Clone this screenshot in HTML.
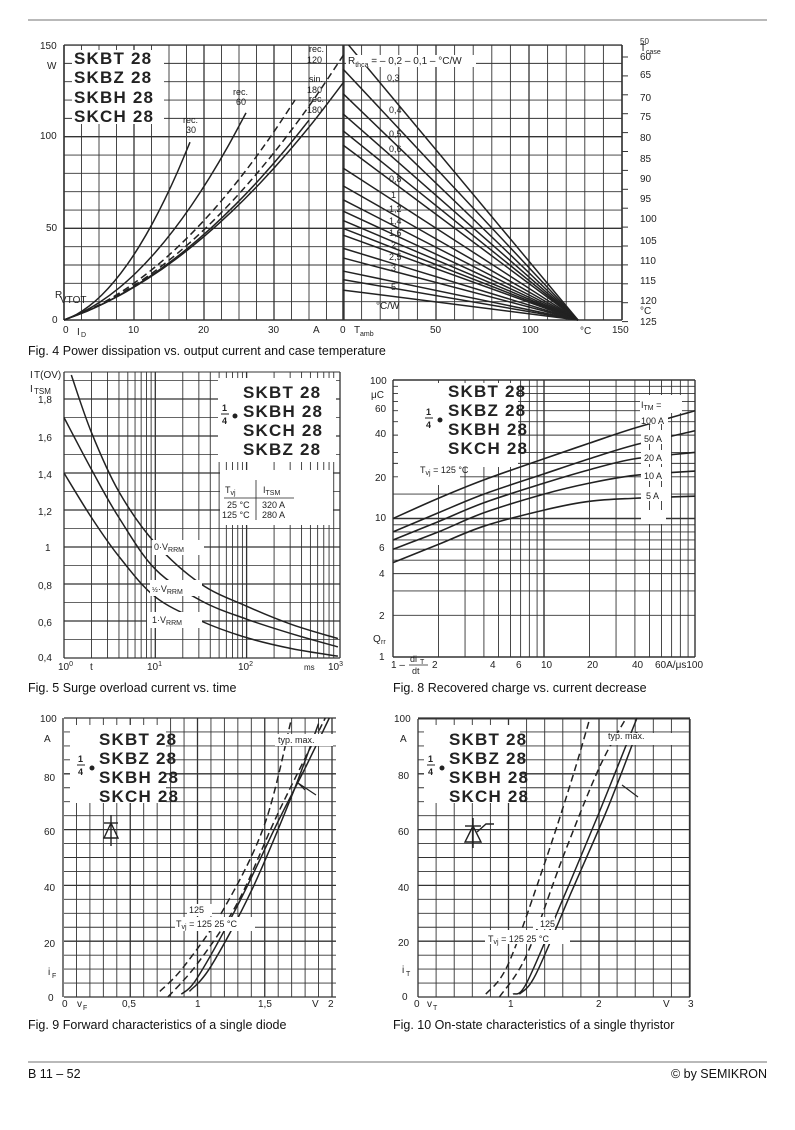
<!DOCTYPE html>
<html><head><meta charset="utf-8"><style>
body{margin:0;background:#fff}
svg{display:block;font-family:"Liberation Sans",sans-serif}
.t{font-size:10px;fill:#222}
.b{font-size:17px;font-weight:bold;fill:#222;letter-spacing:1.2px}
.c{font-size:12.5px;fill:#111}
</style></head><body>
<svg id="s" width="795" height="1130" viewBox="0 0 795 1130">
<rect width="795" height="1130" fill="#fff"/>
<line x1="28" y1="20" x2="767" y2="20" stroke="#444" stroke-width="0.8"/>
<line x1="28" y1="1062" x2="767" y2="1062" stroke="#444" stroke-width="0.8"/>
<g id="g"></g>
<g class="t">
<text x="40" y="49">150</text><text x="47" y="69">W</text><text x="40" y="139">100</text><text x="46" y="231">50</text><text x="52" y="323">0</text>
<text x="55" y="298">R</text><text x="60" y="303">VTOT</text>
<text x="63" y="333">0</text><text x="77" y="335">I</text><text x="81" y="337" font-size="7">D</text><text x="128" y="333">10</text><text x="198" y="333">20</text><text x="268" y="333">30</text><text x="313" y="333">A</text>
<text x="340" y="333">0</text><text x="354" y="333">T</text><text x="360" y="336" font-size="7">amb</text><text x="430" y="333">50</text><text x="522" y="333">100</text><text x="580" y="334">°C</text><text x="612" y="333">150</text>
<text x="640" y="44" font-size="8">50</text><text x="640" y="51">T</text><text x="646" y="54" font-size="7">case</text>
<text x="640" y="60">60</text><text x="640" y="78">65</text><text x="640" y="101">70</text><text x="640" y="120">75</text><text x="640" y="141">80</text><text x="640" y="162">85</text><text x="640" y="182">90</text><text x="640" y="202">95</text><text x="640" y="222">100</text><text x="640" y="244">105</text><text x="640" y="264">110</text><text x="640" y="284">115</text><text x="640" y="304">120</text><text x="640" y="314">°C</text><text x="640" y="325">125</text>
</g>
<text x="28" y="355" class="c">Fig. 4  Power dissipation vs. output current and case temperature</text>
<g class="t">
<text x="30" y="378">I</text><text x="34" y="378">T(OV)</text><text x="30" y="392">I</text><text x="34" y="394" font-size="8">TSM</text>
<text x="38" y="403">1,8</text><text x="38" y="441">1,6</text><text x="38" y="478">1,4</text><text x="38" y="515">1,2</text><text x="45" y="551">1</text><text x="38" y="589">0,8</text><text x="38" y="626">0,6</text><text x="38" y="661">0,4</text>
<text x="58" y="670">10<tspan font-size="7" dy="-4">0</tspan></text><text x="90" y="670">t</text><text x="147" y="670">10<tspan font-size="7" dy="-4">1</tspan></text><text x="238" y="670">10<tspan font-size="7" dy="-4">2</tspan></text><text x="304" y="670" font-size="8">ms</text><text x="328" y="670">10<tspan font-size="7" dy="-4">3</tspan></text>
</g>
<text x="28" y="692" class="c">Fig. 5  Surge overload current vs. time</text>
<g class="t">
<text x="370" y="384">100</text><text x="371" y="398">μC</text><text x="375" y="412">60</text><text x="375" y="437">40</text><text x="375" y="481">20</text><text x="375" y="521">10</text><text x="379" y="551">6</text><text x="379" y="577">4</text><text x="379" y="619">2</text><text x="373" y="642">Q</text><text x="381" y="644" font-size="7">rr</text><text x="379" y="660">1</text>
<text x="391" y="668">1 –</text><text x="410" y="662" font-size="9">di</text><text x="420" y="664" font-size="7">T</text><line x1="409" y1="665" x2="428" y2="665" stroke="#222" stroke-width="0.7"/><text x="412" y="674" font-size="9">dt</text><text x="432" y="668">2</text><text x="490" y="668">4</text><text x="516" y="668">6</text><text x="541" y="668">10</text><text x="587" y="668">20</text><text x="632" y="668">40</text><text x="655" y="668">60A/μs100</text>
</g>
<text x="393" y="692" class="c">Fig. 8  Recovered charge vs. current decrease</text>
<g class="t">
<text x="40" y="722">100</text><text x="44" y="742">A</text><text x="44" y="781">80</text><text x="44" y="835">60</text><text x="44" y="891">40</text><text x="44" y="947">20</text><text x="48" y="975">i</text><text x="52" y="978" font-size="7">F</text><text x="48" y="1001">0</text>
<text x="62" y="1007">0</text><text x="77" y="1007">v</text><text x="83" y="1010" font-size="7">F</text><text x="122" y="1007">0,5</text><text x="195" y="1007">1</text><text x="258" y="1007">1,5</text><text x="312" y="1007">V</text><text x="328" y="1007">2</text>
</g>
<text x="28" y="1029" class="c">Fig. 9  Forward characteristics of a single diode</text>
<g class="t">
<text x="394" y="722">100</text><text x="400" y="742">A</text><text x="398" y="779">80</text><text x="398" y="835">60</text><text x="398" y="891">40</text><text x="398" y="946">20</text><text x="402" y="973">i</text><text x="406" y="976" font-size="7">T</text><text x="402" y="1000">0</text>
<text x="414" y="1007">0</text><text x="427" y="1007">v</text><text x="433" y="1010" font-size="7">T</text><text x="508" y="1007">1</text><text x="596" y="1007">2</text><text x="663" y="1007">V</text><text x="688" y="1007">3</text>
</g>
<text x="393" y="1029" class="c">Fig. 10  On-state characteristics of a single thyristor</text>
<text x="28" y="1078" class="c" font-size="12">B 11 – 52</text>
<text x="767" y="1078" class="c" font-size="12" text-anchor="end">© by SEMIKRON</text>
</svg>
<script>
var NS="http://www.w3.org/2000/svg",G=document.getElementById("g");
function el(n,a,p){var e=document.createElementNS(NS,n);for(var k in a)e.setAttribute(k,a[k]);(p||G).appendChild(e);return e}
function ln(x1,y1,x2,y2,w){el("line",{x1:x1,y1:y1,x2:x2,y2:y2,stroke:"#333","stroke-width":w||0.9})}
function cr(pts){var d="M"+pts[0][0]+","+pts[0][1];for(var i=0;i<pts.length-1;i++){var p0=pts[i-1]||pts[i],p1=pts[i],p2=pts[i+1],p3=pts[i+2]||p2;d+="C"+(p1[0]+(p2[0]-p0[0])/6)+","+(p1[1]+(p2[1]-p0[1])/6)+" "+(p2[0]-(p3[0]-p1[0])/6)+","+(p2[1]-(p3[1]-p1[1])/6)+" "+p2[0]+","+p2[1]}return d}
function curve(pts,dash,w){var a={d:cr(pts),fill:"none",stroke:"#222","stroke-width":w||1.6};if(dash)a["stroke-dasharray"]="7,4";el("path",a)}
function rect(x,y,w,h){el("rect",{x:x,y:y,width:w,height:h,fill:"#fff"})}
var L=64,R=622,T=45,B=320;
for(var i=0;i<=16;i++){var x=64+i*17.5;ln(x,T,x,B,i%4==0?1.3:0.9)}
for(var t=10;t<=150;t+=10){var x=343+t*1.86;if(x<=622)ln(x,T,x,B,t%50==0?1.3:0.9)}
for(var p=0;p<=150;p+=10){var y=320-p*1.833;ln(L,y,R,y,p%50==0?1.4:0.9)}
ln(343,T,343,B,1.5);ln(L,T,L,B,1.5);ln(R,T,R,B,1.5);
for(var k=0;k<15;k++){var y=57+k*18.9;ln(622,y,628,y,1)}
function fx(I){return 64+I*7}function fy(P){return 320-P*1.833}
function pc(Ie,Pe,dash){var a=1.3,b=(Pe-a*Ie)/(Ie*Ie),pts=[];for(var i=0;i<=10;i++){var I=Ie*i/10;pts.push([fx(I),fy(a*I+b*I*I)])}curve(pts,dash,1.5)}
pc(18,97);pc(26,113);pc(40,145,1);pc(40,130);pc(35,109);pc(33,120,1);
[0.1,0.2,0.3,0.4,0.5,0.6,0.8,1,1.2,1.4,1.6,1.8,2,2.5,3,4,5,7].forEach(function(r){var P0=126/(r+0.72),x0=343;if(P0>150){x0=343+(126-150*(r+0.72))*1.86;P0=150}el("line",{x1:x0,y1:fy(P0),x2:578,y2:320,stroke:"#222","stroke-width":1.5})});
rect(72,50,92,74);
var x0=64,dec=91.3;function tx(l){return x0+l*dec}function ty(v){return 658-(v-0.4)*185}
for(var d=0;d<3;d++)for(var m=1;m<10;m++){var x=tx(d+Math.log10(m));ln(x,372,x,658,m==1?1.3:0.9)}
ln(340,372,340,658,1.3);
for(var v=0.4;v<1.95;v+=0.1){ln(64,ty(v),340,ty(v),Math.round(v*10)%2==0?1.2:0.8)}
ln(64,372,340,372,1);
function c5(a){curve(a.map(function(p){return[tx(p[0]),ty(p[1])]}),0,1.5)}
c5([[0.08,1.93],[0.3,1.62],[0.6,1.3],[1,1.02],[1.5,0.8],[2,0.68],[2.5,0.58],[3,0.505]]);
c5([[0,1.7],[0.3,1.42],[0.6,1.16],[1,0.88],[1.5,0.71],[2,0.61],[2.5,0.53],[3,0.46]]);
c5([[0,1.4],[0.3,1.16],[0.6,0.95],[1,0.73],[1.5,0.6],[2,0.51],[2.5,0.45],[3,0.41]]);
rect(218,378,118,84);rect(220,470,113,55);rect(152,540,52,15);rect(150,580,52,16);rect(147,612,55,16);
function gx(v){return 393+Math.log10(v)*151}function gy(v){return 657-Math.log10(v)*138.5}
[1,2,3,4,5,6,7,8,9,10,20,30,40,50,60,70,80,90,100].forEach(function(v){ln(gx(v),380,gx(v),657,(v==1||v==10||v==100)?1.4:0.9)});
[1,2,3,4,5,6,7,8,9,10,15,20,25,30,40,50,60,70,80,90,100].forEach(function(v){ln(393,gy(v),695,gy(v),(v==1||v==10||v==100)?1.4:0.9)});
function c8(a){curve(a.map(function(p){return[gx(p[0]),gy(p[1])]}),0,1.6)}
c8([[1,10],[2,14],[4,19],[10,27],[20,35],[40,45],[100,60]]);
c8([[1,8],[2,11],[4,15],[10,21],[20,27],[40,34],[100,43]]);
c8([[1,7],[2,9.5],[4,13],[10,18],[20,22.5],[40,27],[100,30]]);
c8([[1,6],[2,8],[4,11],[10,15],[20,18],[40,20.5],[100,22]]);
c8([[1,4.8],[2,6.5],[4,8.8],[10,11.5],[20,13.3],[40,14],[100,14.5]]);
rect(398,383,120,84);rect(640,395,42,18);rect(640,412,28,12);rect(641,430,30,14);rect(641,450,30,14);rect(641,467,30,14);rect(641,487,30,14);rect(641,510,25,14);rect(398,465,62,20);
function vx(v){return 63+v*134.5}function iy(i){return 997-i*2.79}
for(var i=0;i<=20;i++){ln(vx(i*0.1),718,vx(i*0.1),997,i%5==0?1.3:0.9)}
for(var i=0;i<=100;i+=5){ln(64,iy(i),336,iy(i),i%20==0?1.3:0.9)}
function c9(a,d){curve(a.map(function(p){return[vx(p[0]),iy(p[1])]}),d,1.5)}
c9([[0.72,2],[0.9,11],[1.2,32],[1.5,62],[1.7,100]],1);
c9([[0.78,0],[1.0,12],[1.3,34],[1.6,66],[1.95,100]],1);
c9([[0.88,1],[1.0,7],[1.3,33],[1.6,63],[1.8,82],[1.98,100]]);
c9([[0.94,2],[1.1,11],[1.4,38],[1.7,72],[1.9,98]]);
rect(70,725,96,78);rect(275,734,58,12);rect(175,917,80,14);rect(187,904,25,12);
function wx(v){return 418+v*90.5}
for(var i=0;i<=15;i++){ln(wx(i*0.2),719,wx(i*0.2),997,i%5==0?1.3:0.9)}
for(var i=0;i<=100;i+=5){ln(418,iy(i),690,iy(i),i%20==0?1.3:0.9)}
ln(690,719,690,997,1.3);ln(418,719,690,719,1);
function c10(a,d){curve(a.map(function(p){return[wx(p[0]),iy(p[1])]}),d,1.5)}
c10([[0.75,1],[1.0,12],[1.4,48],[1.7,78],[1.9,100]],1);
c10([[0.9,0],[1.2,15],[1.6,50],[2.0,82],[2.3,100]],1);
c10([[1.05,1],[1.2,5],[1.6,35],[2.0,66],[2.42,100]]);
c10([[1.12,1],[1.3,8],[1.7,38],[2.1,68],[2.42,95]]);
rect(424,725,96,78);rect(602,733,70,12);rect(485,930,85,14);rect(533,917,22,12);
</script>
<svg style="position:absolute;left:0;top:0" width="795" height="1130">
<g font-family="Liberation Sans,sans-serif" fill="#222">
<text x="74" y="64" class="b">SKBT 28</text><text x="74" y="83" class="b">SKBZ 28</text><text x="74" y="103" class="b">SKBH 28</text><text x="74" y="122" class="b">SKCH 28</text>
<g font-size="9"><text x="183" y="123">rec.</text><text x="186" y="133">30</text><text x="233" y="95">rec.</text><text x="236" y="105">60</text><text x="309" y="52">rec.</text><text x="307" y="63">120</text><text x="309" y="82">sin.</text><text x="307" y="93">180</text><text x="309" y="102">rec.</text><text x="307" y="113">180</text>
<rect x="346" y="55" width="130" height="12" fill="#fff"/><text x="348" y="64" font-size="10">R<tspan font-size="7" dy="3">thca</tspan><tspan dy="-3"> = – 0,2 – 0,1 – °C/W</tspan></text>
<text x="387" y="81">0,3</text><text x="389" y="113">0,4</text><text x="389" y="137">0,5</text><text x="389" y="152">0,6</text><text x="389" y="182">0,8</text><text x="391" y="198">1</text><text x="389" y="212">1,2</text><text x="389" y="224">1,4</text><text x="389" y="236">1,6</text><text x="391" y="248">2</text><text x="389" y="260">2,5</text><text x="391" y="271">3</text><text x="391" y="290">5</text><text x="376" y="309" font-size="10">°C/W</text></g>
<text x="243" y="398" class="b">SKBT 28</text><text x="243" y="417" class="b">SKBH 28</text><text x="243" y="436" class="b">SKCH 28</text><text x="243" y="455" class="b">SKBZ 28</text>
<text x="222" y="411" font-size="9" font-weight="bold">1</text><line x1="221" y1="414" x2="229" y2="414" stroke="#222"/><text x="222" y="424" font-size="9" font-weight="bold">4</text><circle cx="235" cy="416" r="2.5"/>
<g font-size="9"><text x="225" y="493">T<tspan font-size="7" dy="2">vj</tspan></text><text x="263" y="493">I<tspan font-size="7" dy="2">TSM</tspan></text><line x1="224" y1="498" x2="294" y2="498" stroke="#222" stroke-width="0.8"/><line x1="256" y1="480" x2="256" y2="520" stroke="#222" stroke-width="0.8"/>
<text x="227" y="508">25 °C</text><text x="262" y="508">320 A</text><text x="222" y="518">125 °C</text><text x="262" y="518">280 A</text>
<text x="154" y="550">0·V<tspan font-size="7" dy="2">RRM</tspan></text><text x="152" y="592"><tspan font-size="7">½</tspan>·V<tspan font-size="7" dy="2">RRM</tspan></text><text x="152" y="623">1·V<tspan font-size="7" dy="2">RRM</tspan></text></g>
<text x="448" y="397" class="b">SKBT 28</text><text x="448" y="416" class="b">SKBZ 28</text><text x="448" y="435" class="b">SKBH 28</text><text x="448" y="454" class="b">SKCH 28</text>
<text x="426" y="415" font-size="9" font-weight="bold">1</text><line x1="425" y1="418" x2="433" y2="418" stroke="#222"/><text x="426" y="428" font-size="9" font-weight="bold">4</text><circle cx="440" cy="420" r="2.5"/>
<g font-size="9"><text x="641" y="408">I<tspan font-size="7" dy="2">TM</tspan><tspan dy="-2"> =</tspan></text><text x="641" y="424">100 A</text><text x="644" y="442">50 A</text><text x="644" y="461">20 A</text><text x="644" y="479">10 A</text><text x="646" y="499">5 A</text><text x="420" y="473">T<tspan font-size="7" dy="2">vj</tspan><tspan dy="-2"> = 125 °C</tspan></text></g>
<text x="99" y="745" class="b">SKBT 28</text><text x="99" y="764" class="b">SKBZ 28</text><text x="99" y="783" class="b">SKBH 28</text><text x="99" y="802" class="b">SKCH 28</text>
<text x="78" y="762" font-size="9" font-weight="bold">1</text><line x1="77" y1="765" x2="85" y2="765" stroke="#222"/><text x="78" y="775" font-size="9" font-weight="bold">4</text><circle cx="92" cy="768" r="2.5"/>
<g stroke="#222" stroke-width="1.4" fill="none"><line x1="111" y1="815" x2="111" y2="846"/><line x1="104" y1="823" x2="118" y2="823"/><path d="M104,838 L118,838 L111,823 Z"/></g>
<g font-size="9"><text x="278" y="743">typ. max.</text><text x="176" y="927">T<tspan font-size="7" dy="2">vj</tspan><tspan dy="-2"> = 125 </tspan><tspan>25 °C</tspan></text><text x="189" y="913">125</text></g>
<path d="M298,783 L316,795 M298,783 L305,790" stroke="#222" stroke-width="1.2"/>
<text x="449" y="745" class="b">SKBT 28</text><text x="449" y="764" class="b">SKBZ 28</text><text x="449" y="783" class="b">SKBH 28</text><text x="449" y="802" class="b">SKCH 28</text>
<text x="428" y="762" font-size="9" font-weight="bold">1</text><line x1="427" y1="765" x2="435" y2="765" stroke="#222"/><text x="428" y="775" font-size="9" font-weight="bold">4</text><circle cx="442" cy="768" r="2.5"/>
<g stroke="#222" stroke-width="1.4" fill="none"><line x1="473" y1="818" x2="473" y2="848"/><line x1="465" y1="826" x2="481" y2="826"/><path d="M465,842 L481,842 L473,826 Z"/><path d="M477,832 L486,824 L494,824"/></g>
<g font-size="9"><text x="608" y="739">typ. max.</text><text x="488" y="942">T<tspan font-size="7" dy="2">vj</tspan><tspan dy="-2"> = 125 </tspan><tspan>25 °C</tspan></text><text x="540" y="927">125</text></g>
<path d="M622,785 L638,797" stroke="#222" stroke-width="1.2"/>
</g></svg>
</body></html>
